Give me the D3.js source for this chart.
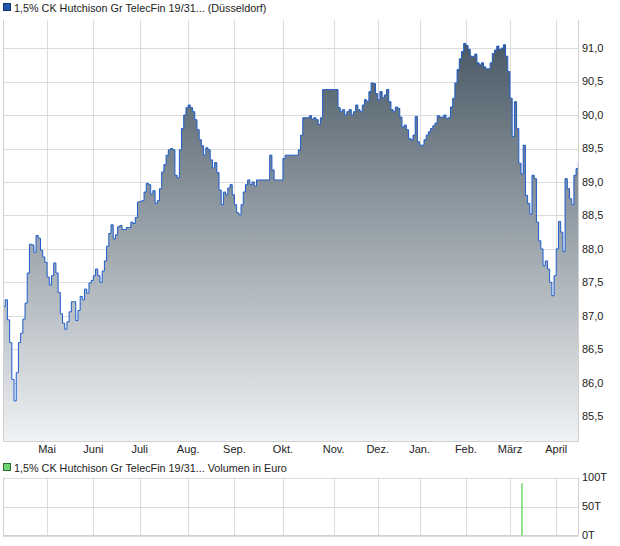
<!DOCTYPE html>
<html>
<head>
<meta charset="utf-8">
<script src="https://cdn.jsdelivr.net/npm/d3@7"></script>
<style>
  html, body { margin: 0; padding: 0; background: #fff; }
  svg { display: block; font-family: "Liberation Sans", Arial, sans-serif; }
</style>
</head>
<body>
<svg id="chart" width="620" height="546"></svg>
<script>
// ---- data (one value per trading day) ----
const priceTitle = "1,5% CK Hutchison Gr TelecFin 19/31... (Düsseldorf)";
const volumeTitle = "1,5% CK Hutchison Gr TelecFin 19/31... Volumen in Euro";

const prices = [
  87.14, 87.24, 86.94, 86.60, 86.05, 85.73, 86.15, 86.60, 86.74, 86.95,
  87.19, 87.64, 88.07, 88.06, 87.95, 88.20, 88.16, 87.98, 87.88, 87.80,
  87.58, 87.46, 87.60, 87.79, 87.64, 87.35, 87.03, 86.89, 86.80, 86.91,
  87.06, 87.21, 87.21, 86.93, 87.08, 87.29, 87.24, 87.40, 87.34, 87.49,
  87.53, 87.60, 87.70, 87.60, 87.50, 87.67, 87.82, 88.04, 88.23, 88.36,
  88.15, 88.21, 88.33, 88.35, 88.29, 88.29, 88.32, 88.32, 88.40, 88.38,
  88.47, 88.70, 88.71, 88.72, 88.85, 88.98, 88.96, 88.82, 88.87, 88.68,
  88.72, 88.90, 89.15, 89.26, 89.40, 89.48, 89.50, 89.48, 89.10, 89.06,
  89.48, 89.80, 90.00, 90.11, 90.15, 90.11, 90.05, 89.93, 89.78, 89.63,
  89.54, 89.40, 89.51, 89.48, 89.33, 89.21, 89.29, 89.14, 88.88, 88.66,
  88.85, 88.81, 88.91, 88.96, 88.81, 88.66, 88.54, 88.51, 88.66, 88.85,
  88.96, 89.03, 88.96, 89.00, 88.94, 89.03, 89.03, 89.03, 89.03, 89.03,
  89.03, 89.40, 89.18, 89.03, 89.03, 89.03, 89.03, 89.35, 89.40, 89.40,
  89.40, 89.40, 89.40, 89.40, 89.48, 89.70, 89.96, 89.96, 89.96, 89.99,
  89.94, 89.96, 89.93, 89.86, 89.96, 90.38, 90.38, 90.38, 90.38, 90.38,
  90.38, 90.38, 90.11, 90.05, 90.08, 90.00, 90.05, 90.08, 90.00, 90.05,
  90.15, 90.08, 90.05, 90.15, 90.23, 90.20, 90.35, 90.48, 90.47, 90.32,
  90.23, 90.35, 90.26, 90.30, 90.38, 90.20, 90.08, 90.05, 90.12, 90.10,
  89.97, 89.82, 89.85, 89.78, 89.65, 89.63, 89.70, 89.98, 89.60, 89.55,
  89.55, 89.63, 89.70, 89.75, 89.80, 89.84, 89.88, 89.99, 89.97, 89.97,
  90.00, 89.95, 89.96, 90.12, 90.25, 90.48, 90.68, 90.84, 90.95, 91.07,
  91.04, 90.98, 90.88, 90.87, 90.91, 90.78, 90.75, 90.78, 90.72, 90.69,
  90.69, 90.78, 90.92, 90.97, 91.03, 90.98, 91.00, 91.05, 90.88, 90.65,
  90.25, 89.68, 90.20, 89.80, 89.28, 89.12, 89.55, 88.80, 88.68, 88.52,
  89.10, 89.05, 88.40, 88.12, 88.00, 87.75, 87.82, 87.70, 87.50, 87.30,
  87.60, 88.00, 88.41, 88.25, 87.96, 89.05, 88.90, 88.75, 88.66, 89.10,
  89.20, 89.29
];

// month labels at the first trading day of each month
const monthLabels = ["Mai", "Juni", "Juli", "Aug.", "Sep.", "Okt.", "Nov.", "Dez.", "Jan.", "Feb.", "März", "April"];
const monthStarts = [20, 41, 62, 84, 105, 127, 150, 170, 189, 210, 230, 251];

const priceTicks = [85.5, 86.0, 86.5, 87.0, 87.5, 88.0, 88.5, 89.0, 89.5, 90.0, 90.5, 91.0];

// volume (only one trade in the period)
const volumeDays = [235];
const volumeValues = [90000];
const volumeTicks = [0, 50000, 100000];
const volumeTickLabels = ["0T", "50T", "100T"];

// ---- layout ----
const svg = d3.select("#chart");
const plotL = 3, plotR = 578.5, plotT = 20, plotB = 441;
const volT = 477.5, volB = 535.5;

const x = d3.scaleLinear().domain([0, prices.length - 1]).range([plotL, 578.3]);
const y = d3.scaleLinear().domain([85.13, 91.42]).range([plotB, plotT]);
const yv = d3.scaleLinear().domain([0, 100000]).range([volB, volT]);

const gridColor = "#dcdcdc";
const textColor = "#222";
const crisp = v => Math.round(v) + 0.5;

// ---- gradient ----
const defs = svg.append("defs");
const grad = defs.append("linearGradient")
  .attr("id", "areaGrad").attr("gradientUnits", "userSpaceOnUse")
  .attr("x1", 0).attr("x2", 0).attr("y1", y(d3.max(prices))).attr("y2", plotB);
grad.append("stop").attr("offset", "0%").attr("stop-color", "#4a5a66");
grad.append("stop").attr("offset", "100%").attr("stop-color", "#f0f2f4");

// ---- titles ----
function legend(yTop, fill, stroke, label) {
  svg.append("rect").attr("x", 3.5).attr("y", yTop + 0.5).attr("width", 7).attr("height", 7)
    .attr("fill", fill).attr("stroke", stroke).attr("stroke-width", 1);
  svg.append("text").attr("x", 14).attr("y", yTop + 8.5)
    .attr("font-size", 10.8).attr("fill", textColor).text(label);
}
legend(3, "#2456b0", "#15336b", priceTitle);
legend(463, "#6fd36f", "#2f6a2f", volumeTitle);

// ---- price grid ----
const gPrice = svg.append("g");
gPrice.selectAll("line.hg").data(priceTicks).join("line")
  .attr("x1", plotL).attr("x2", plotR)
  .attr("y1", d => crisp(y(d))).attr("y2", d => crisp(y(d)))
  .attr("stroke", gridColor).attr("stroke-width", 1);
gPrice.selectAll("line.vg").data(monthStarts).join("line")
  .attr("x1", d => crisp(x(d))).attr("x2", d => crisp(x(d)))
  .attr("y1", plotT).attr("y2", plotB)
  .attr("stroke", gridColor).attr("stroke-width", 1);

// ---- area + line ----
const area = d3.area().x((d, i) => x(i)).y0(plotB).y1(d => y(d)).curve(d3.curveStepAfter);
const line = d3.line().x((d, i) => x(i)).y(d => y(d)).curve(d3.curveStepAfter);
svg.append("path").datum(prices).attr("d", area).attr("fill", "url(#areaGrad)");
svg.append("path").datum(prices).attr("d", line)
  .attr("fill", "none").attr("stroke", "#1d5ccc").attr("stroke-width", 1);

// ---- price frame ----
svg.append("path")
  .attr("d", `M${plotL + 0.5},${plotT}V${plotB + 0.5}H${plotR}V${plotT}`)
  .attr("fill", "none").attr("stroke", "#d0d0d0").attr("stroke-width", 1);

// ---- price axis labels ----
svg.selectAll("text.py").data(priceTicks).join("text")
  .attr("x", 582).attr("y", d => y(d)).attr("dy", "0.35em")
  .attr("font-size", 11).attr("fill", textColor)
  .text(d => d3.format(".1f")(d).replace(".", ","));

svg.selectAll("text.mx").data(monthStarts).join("text")
  .attr("x", d => x(d)).attr("y", 453)
  .attr("text-anchor", "middle").attr("font-size", 11).attr("fill", textColor)
  .text((d, i) => monthLabels[i]);

// ---- volume panel ----
const gVol = svg.append("g");
gVol.selectAll("line.hg").data(volumeTicks).join("line")
  .attr("x1", plotL).attr("x2", plotR)
  .attr("y1", d => crisp(yv(d))).attr("y2", d => crisp(yv(d)))
  .attr("stroke", gridColor).attr("stroke-width", 1);
gVol.selectAll("line.vg").data(monthStarts).join("line")
  .attr("x1", d => crisp(x(d))).attr("x2", d => crisp(x(d)))
  .attr("y1", volT).attr("y2", volB)
  .attr("stroke", gridColor).attr("stroke-width", 1);
gVol.append("path")
  .attr("d", `M${plotL + 0.5},${volT}V${volB}H${plotR}V${volT}`)
  .attr("fill", "none").attr("stroke", "#d0d0d0").attr("stroke-width", 1);

gVol.selectAll("line.vb").data(volumeDays).join("line")
  .attr("x1", d => x(d) + 1).attr("x2", d => x(d) + 1)
  .attr("y1", volB).attr("y2", (d, i) => yv(volumeValues[i]))
  .attr("stroke", "#55d055").attr("stroke-width", 1.3);

svg.selectAll("text.vy").data(volumeTicks).join("text")
  .attr("x", 582).attr("y", d => yv(d)).attr("dy", "0.35em")
  .attr("font-size", 11).attr("fill", textColor)
  .text((d, i) => volumeTickLabels[i]);
</script>
</body>
</html>
